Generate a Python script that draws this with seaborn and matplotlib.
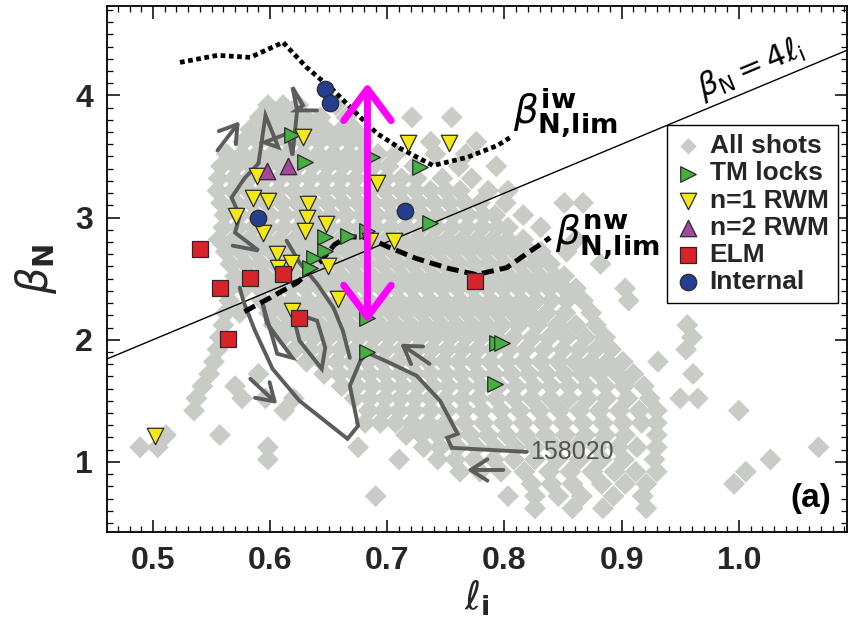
import numpy as np
import pandas as pd
import matplotlib
matplotlib.use("Agg")
import matplotlib.pyplot as plt
from matplotlib.ticker import MultipleLocator
import seaborn as sns

# ---------------- data ----------------
# database of all shots: rows of beta_N, each with the l_i values of the shots in that row
shot_rows = [
    (3.92, [0.598, 0.611, 0.624, 0.656]),
    (3.82, [0.591, 0.604, 0.617, 0.630, 0.643, 0.665, 0.721, 0.755]),
    (3.72, [0.583, 0.596, 0.609, 0.622, 0.635, 0.648, 0.661, 0.672]),
    (3.62, [0.577, 0.590, 0.603, 0.616, 0.629, 0.642, 0.655, 0.668, 0.679, 0.737, 0.776]),
    (3.52, [0.563, 0.576, 0.589, 0.602, 0.615, 0.628, 0.641, 0.654, 0.667, 0.680, 0.692, 0.707, 0.741, 0.767]),
    (3.42, [0.558, 0.571, 0.584, 0.597, 0.610, 0.623, 0.636, 0.649, 0.662, 0.675, 0.688, 0.701, 0.723, 0.761, 0.793]),
    (3.32, [0.556, 0.569, 0.582, 0.595, 0.608, 0.621, 0.634, 0.647, 0.660, 0.673, 0.686, 0.699, 0.712, 0.725, 0.747, 0.772]),
    (3.22, [0.555, 0.568, 0.581, 0.594, 0.607, 0.620, 0.633, 0.646, 0.659, 0.672, 0.685, 0.698, 0.711, 0.724, 0.737, 0.750, 0.762, 0.786, 0.803]),
    (3.12, [0.558, 0.571, 0.584, 0.597, 0.610, 0.623, 0.636, 0.649, 0.662, 0.675, 0.688, 0.701, 0.714, 0.727, 0.740, 0.753, 0.766, 0.779, 0.801, 0.851, 0.867]),
    (3.02, [0.561, 0.574, 0.587, 0.600, 0.613, 0.626, 0.639, 0.652, 0.665, 0.678, 0.691, 0.704, 0.717, 0.730, 0.743, 0.756, 0.769, 0.782, 0.792, 0.816]),
    (2.92, [0.560, 0.573, 0.586, 0.599, 0.612, 0.625, 0.638, 0.651, 0.664, 0.677, 0.690, 0.703, 0.716, 0.729, 0.742, 0.755, 0.768, 0.781, 0.794, 0.803, 0.831]),
    (2.82, [0.556, 0.569, 0.582, 0.595, 0.608, 0.621, 0.634, 0.647, 0.660, 0.673, 0.686, 0.699, 0.712, 0.725, 0.738, 0.751, 0.764, 0.777, 0.790, 0.803, 0.816, 0.861]),
    (2.72, [0.562, 0.575, 0.588, 0.601, 0.614, 0.627, 0.640, 0.653, 0.666, 0.679, 0.692, 0.705, 0.718, 0.731, 0.744, 0.757, 0.770, 0.783, 0.796, 0.809, 0.822, 0.831, 0.853]),
    (2.62, [0.566, 0.579, 0.592, 0.605, 0.618, 0.631, 0.644, 0.657, 0.670, 0.683, 0.696, 0.709, 0.722, 0.735, 0.748, 0.761, 0.774, 0.787, 0.800, 0.813, 0.826, 0.839, 0.882]),
    (2.52, [0.570, 0.583, 0.596, 0.609, 0.622, 0.635, 0.648, 0.661, 0.674, 0.687, 0.700, 0.713, 0.726, 0.739, 0.752, 0.765, 0.778, 0.791, 0.804, 0.817, 0.830, 0.843, 0.851]),
    (2.42, [0.566, 0.578, 0.591, 0.604, 0.617, 0.630, 0.643, 0.656, 0.669, 0.682, 0.695, 0.708, 0.721, 0.734, 0.747, 0.760, 0.773, 0.786, 0.799, 0.812, 0.825, 0.838, 0.851, 0.861, 0.903]),
    (2.32, [0.565, 0.593, 0.606, 0.619, 0.632, 0.645, 0.658, 0.671, 0.684, 0.697, 0.710, 0.723, 0.736, 0.749, 0.762, 0.775, 0.788, 0.801, 0.814, 0.827, 0.840, 0.853, 0.867, 0.906]),
    (2.22, [0.562, 0.574, 0.599, 0.612, 0.625, 0.638, 0.651, 0.664, 0.677, 0.690, 0.703, 0.716, 0.729, 0.742, 0.755, 0.768, 0.781, 0.794, 0.807, 0.820, 0.836, 0.852, 0.874]),
    (2.12, [0.560, 0.603, 0.616, 0.629, 0.642, 0.655, 0.668, 0.681, 0.694, 0.707, 0.720, 0.733, 0.746, 0.759, 0.772, 0.785, 0.798, 0.812, 0.828, 0.845, 0.861, 0.878, 0.956]),
    (2.02, [0.557, 0.611, 0.624, 0.637, 0.650, 0.663, 0.676, 0.689, 0.702, 0.715, 0.728, 0.741, 0.754, 0.767, 0.780, 0.793, 0.808, 0.824, 0.838, 0.853, 0.869, 0.886, 0.960]),
    (1.92, [0.555, 0.621, 0.634, 0.647, 0.660, 0.673, 0.686, 0.699, 0.712, 0.725, 0.738, 0.751, 0.764, 0.777, 0.790, 0.804, 0.818, 0.834, 0.850, 0.864, 0.878, 0.891, 0.955]),
    (1.82, [0.552, 0.631, 0.644, 0.657, 0.670, 0.683, 0.696, 0.709, 0.722, 0.735, 0.748, 0.761, 0.774, 0.788, 0.802, 0.816, 0.831, 0.846, 0.860, 0.874, 0.888, 0.901, 0.931]),
    (1.72, [0.548, 0.590, 0.646, 0.659, 0.672, 0.685, 0.698, 0.711, 0.724, 0.737, 0.750, 0.763, 0.777, 0.791, 0.806, 0.821, 0.836, 0.851, 0.866, 0.881, 0.896, 0.910, 0.961]),
    (1.62, [0.542, 0.570, 0.661, 0.674, 0.687, 0.700, 0.713, 0.726, 0.739, 0.752, 0.766, 0.780, 0.795, 0.810, 0.825, 0.840, 0.855, 0.870, 0.886, 0.902, 0.919]),
    (1.52, [0.537, 0.576, 0.596, 0.620, 0.672, 0.685, 0.698, 0.711, 0.724, 0.737, 0.750, 0.764, 0.778, 0.793, 0.808, 0.823, 0.839, 0.855, 0.871, 0.887, 0.905, 0.924, 0.950, 0.965]),
    (1.42, [0.535, 0.612, 0.684, 0.697, 0.710, 0.723, 0.737, 0.751, 0.766, 0.781, 0.797, 0.813, 0.830, 0.847, 0.864, 0.881, 0.898, 0.915, 0.930, 1.000]),
    (1.32, [0.681, 0.694, 0.707, 0.721, 0.735, 0.750, 0.766, 0.782, 0.799, 0.816, 0.833, 0.850, 0.867, 0.884, 0.901, 0.917, 0.930]),
    (1.22, [0.511, 0.557, 0.716, 0.729, 0.743, 0.757, 0.771, 0.786, 0.802, 0.818, 0.835, 0.852, 0.869, 0.886, 0.903, 0.930]),
    (1.12, [0.489, 0.504, 0.598, 0.675, 0.731, 0.745, 0.760, 0.776, 0.792, 0.809, 0.826, 0.843, 0.861, 0.879, 0.897, 0.913, 0.930, 1.068]),
    (1.02, [0.598, 0.710, 0.743, 0.758, 0.774, 0.791, 0.808, 0.826, 0.845, 0.864, 0.883, 0.902, 0.928, 1.027]),
    (0.92, [0.762, 0.779, 0.797, 0.817, 0.838, 0.856, 0.875, 0.894, 0.912, 0.930, 1.006]),
    (0.82, [0.823, 0.840, 0.858, 0.883, 0.903, 0.921, 0.996]),
    (0.72, [0.690, 0.803, 0.826, 0.846, 0.866, 0.893, 0.918]),
    (0.62, [0.826, 0.858, 0.884, 0.921]),
]

# disruption events (l_i, beta_N)
tm_li = [0.619, 0.630, 0.687, 0.728, 0.736, 0.647, 0.666, 0.683, 0.647, 0.637, 0.634, 0.683, 0.683, 0.794, 0.798, 0.792]
tm_bn = [3.672, 3.451, 3.492, 3.410, 2.959, 2.844, 2.852, 2.893, 2.730, 2.672, 2.590, 2.180, 1.902, 1.975, 1.975, 1.639]

rwm1_li = [0.628, 0.589, 0.585, 0.598, 0.571, 0.594, 0.632, 0.631, 0.630, 0.648, 0.606,
           0.607, 0.618, 0.649, 0.658, 0.691, 0.718, 0.753, 0.685, 0.706, 0.619, 0.502]
rwm1_bn = [3.656, 3.344, 3.156, 3.139, 3.016, 2.877, 3.115, 3.000, 2.893, 2.951, 2.705,
           2.590, 2.631, 2.607, 2.336, 3.279, 3.607, 3.607, 2.811, 2.811, 2.238, 1.213]

rwm2_li = [0.597, 0.615]
rwm2_bn = [3.385, 3.426]

elm_li = [0.540, 0.557, 0.583, 0.611, 0.775, 0.564, 0.625]
elm_bn = [2.746, 2.426, 2.508, 2.541, 2.484, 2.008, 2.180]

int_li = [0.647, 0.651, 0.590, 0.715]
int_bn = [4.049, 3.934, 3.000, 3.057]

# stability limits
iw_li = [0.523, 0.555, 0.583, 0.611, 0.631, 0.654, 0.671, 0.691, 0.711, 0.739, 0.768, 0.794, 0.805]
iw_bn = [4.270, 4.328, 4.311, 4.434, 4.230, 4.041, 3.877, 3.689, 3.566, 3.426, 3.492, 3.590, 3.656]
nw_li = [0.578, 0.600, 0.623, 0.642, 0.655, 0.666, 0.683, 0.702, 0.725, 0.753, 0.776, 0.802, 0.819, 0.839]
nw_bn = [2.230, 2.344, 2.467, 2.631, 2.779, 2.844, 2.836, 2.754, 2.664, 2.582, 2.533, 2.590, 2.705, 2.836]

# beta_N = 4 l_i reference line
ref_li = [0.40, 1.20]
ref_slope = 4.0

# discharge 158020 trajectory and neighbouring trajectories
traj_158020 = [(0.819, 1.082), (0.755, 1.115), (0.751, 1.197), (0.760, 1.230), (0.745, 1.500),
               (0.725, 1.705), (0.702, 1.811), (0.683, 1.893), (0.677, 1.828), (0.668, 1.623),
               (0.675, 1.295), (0.666, 1.189), (0.625, 1.500), (0.602, 1.762), (0.587, 2.074),
               (0.577, 2.320), (0.574, 2.426)]
traj_upper_a = [(0.568, 2.770), (0.590, 2.730), (0.570, 2.877), (0.574, 3.016), (0.567, 3.164),
                (0.578, 3.320), (0.590, 3.443)]
traj_upper_b = [(0.590, 3.443), (0.596, 3.836), (0.607, 3.574), (0.595, 3.615), (0.615, 3.689),
                (0.619, 3.508), (0.623, 3.877), (0.619, 4.066), (0.628, 3.918), (0.622, 3.877),
                (0.640, 3.877)]
traj_mid = [(0.614, 2.811), (0.625, 2.631), (0.640, 2.459), (0.654, 2.262), (0.662, 2.074), (0.668, 1.852)]
traj_loop_a = [(0.594, 2.279), (0.606, 1.885), (0.619, 1.852), (0.597, 2.139), (0.594, 2.279)]
traj_loop_b = [(0.619, 2.221), (0.640, 2.156), (0.647, 1.934), (0.644, 1.762), (0.625, 1.992), (0.619, 2.221)]
trajectories = [traj_158020, traj_upper_a, traj_upper_b, traj_mid, traj_loop_a, traj_loop_b]

# direction arrows along trajectories: (tail, head)
traj_arrows = [((0.555, 3.549), (0.574, 3.787)),
               ((0.583, 1.680), (0.606, 1.475)),
               ((0.736, 1.803), (0.711, 1.967)),
               ((0.799, 0.934), (0.768, 0.934))]

# beta_N range spanned at fixed l_i
span_li = 0.683
span_bn = (2.14, 4.10)

x_ticks = [0.5, 0.6, 0.7, 0.8, 0.9, 1.0]
x_tick_labels = ["0.5", "0.6", "0.7", "0.8", "0.9", "1.0"]
y_ticks = [1, 2, 3, 4]
y_tick_labels = ["1", "2", "3", "4"]

# ---------------- style ----------------
sns.set_theme(style="white")
plt.rcParams["font.family"] = ["Liberation Sans Narrow", "Liberation Sans", "DejaVu Sans"]
plt.rcParams["mathtext.fontset"] = "dejavusans"

fig = plt.figure(figsize=(8.56, 6.19), dpi=100)
ax = fig.add_axes([0.125, 0.1405, 0.864, 0.8495])

shots = pd.DataFrame([(li, bn) for bn, lis in shot_rows for li in lis], columns=["li", "bn"])
sns.scatterplot(data=shots, x="li", y="bn", marker="D", s=125, color="#c9cbc7",
                edgecolor="none", linewidth=0, label="All shots", ax=ax, zorder=1)

# reference line
ref_x = np.array(ref_li)
ax.plot(ref_x, ref_slope * ref_x, color="black", lw=1.0, zorder=2)

# trajectories
for tr in trajectories:
    tx, ty = zip(*tr)
    ax.plot(tx, ty, color="#5c5c5c", lw=2.8, solid_joinstyle="miter", zorder=3)
for tail, head in traj_arrows:
    ax.annotate("", xy=head, xytext=tail,
                arrowprops=dict(arrowstyle="->,head_length=0.55,head_width=0.35",
                                color="#5c5c5c", lw=2.8, mutation_scale=22,
                                shrinkA=0, shrinkB=0), zorder=3)

# stability limits
ax.plot(iw_li, iw_bn, color="black", lw=3.4, linestyle=(0, (1.0, 0.75)),
        dash_capstyle="butt", zorder=4)
ax.plot(nw_li, nw_bn, color="black", lw=3.6, linestyle=(0, (2.4, 1.2)),
        dash_capstyle="butt", zorder=4)

events = [
    (tm_li, tm_bn, ">", "#45b041", "TM locks", 125),
    (rwm1_li, rwm1_bn, "v", "#f4e717", "n=1 RWM", 140),
    (rwm2_li, rwm2_bn, "^", "#a5479c", "n=2 RWM", 140),
    (elm_li, elm_bn, "s", "#d7232a", "ELM", 135),
    (int_li, int_bn, "o", "#243f8f", "Internal", 140),
]
for xs, ys, mk, col, lab, sz in events:
    sns.scatterplot(x=xs, y=ys, marker=mk, s=sz, color=col, edgecolor="#2a2a2a",
                    linewidth=0.9, label=lab, ax=ax, zorder=5)

# beta_N span at fixed l_i
ax.annotate("", xy=(span_li, span_bn[1]), xytext=(span_li, span_bn[0]),
            arrowprops=dict(arrowstyle="<->,head_length=0.6,head_width=0.45",
                            color="#ff00ff", lw=5, mutation_scale=38,
                            shrinkA=0, shrinkB=0), zorder=6)

# text labels
ax.text(0.807, 3.86, r"$\beta^{\mathbf{iw}}_{\mathbf{N{,}lim}}$", fontsize=28,
        ha="left", va="center", color="black", zorder=7)
ax.text(0.843, 2.84, r"$\beta^{\mathbf{nw}}_{\mathbf{N{,}lim}}$", fontsize=28,
        ha="left", va="center", color="black", zorder=7)
ax.text(1.010, 4.22, r"$\beta_{\mathrm{N}}=4\ell_{\mathrm{i}}$", fontsize=22,
        ha="center", va="center", rotation=22.6, color="black", zorder=7)
ax.text(0.822, 1.082, "158020", fontsize=18, ha="left", va="center",
        color="#555555", zorder=7)
ax.text(1.079, 0.70, "(a)", fontsize=24, fontweight="bold", ha="right", va="center",
        color="black", zorder=7)

# axes
ax.set_xlim(0.4607, 1.092)
ax.set_ylim(0.426, 4.73)
ax.set_xticks(x_ticks)
ax.set_xticklabels(x_tick_labels)
ax.set_yticks(y_ticks)
ax.set_yticklabels(y_tick_labels)
ax.xaxis.set_minor_locator(MultipleLocator(0.01))
ax.yaxis.set_minor_locator(MultipleLocator(0.1))
ax.tick_params(which="both", direction="in", top=True, right=True, bottom=True, left=True,
               color="black")
ax.tick_params(which="major", length=9, width=1.1, labelsize=23, pad=10)
ax.tick_params(which="minor", length=4.5, width=0.9)
for lab in ax.get_xticklabels() + ax.get_yticklabels():
    lab.set_fontweight("bold")
for sp in ax.spines.values():
    sp.set_color("black")
    sp.set_linewidth(1.3)

ax.set_xlabel(r"$\ell_{\mathbf{i}}$", fontsize=28, labelpad=2)
ax.set_ylabel(r"$\beta_{\mathbf{N}}$", fontsize=30, labelpad=12)

leg = ax.legend(loc="upper right", bbox_to_anchor=(0.988, 0.774), borderaxespad=0,
                frameon=True, fancybox=False, edgecolor="black", framealpha=1,
                prop={"weight": "bold", "size": 19}, handlelength=0.9,
                handletextpad=0.35, labelspacing=0.12, borderpad=0.35)
leg.get_frame().set_linewidth(1.0)
leg.legend_handles[0].set_sizes([70])
leg.set_zorder(10)

fig.savefig("out.png", dpi=100)
